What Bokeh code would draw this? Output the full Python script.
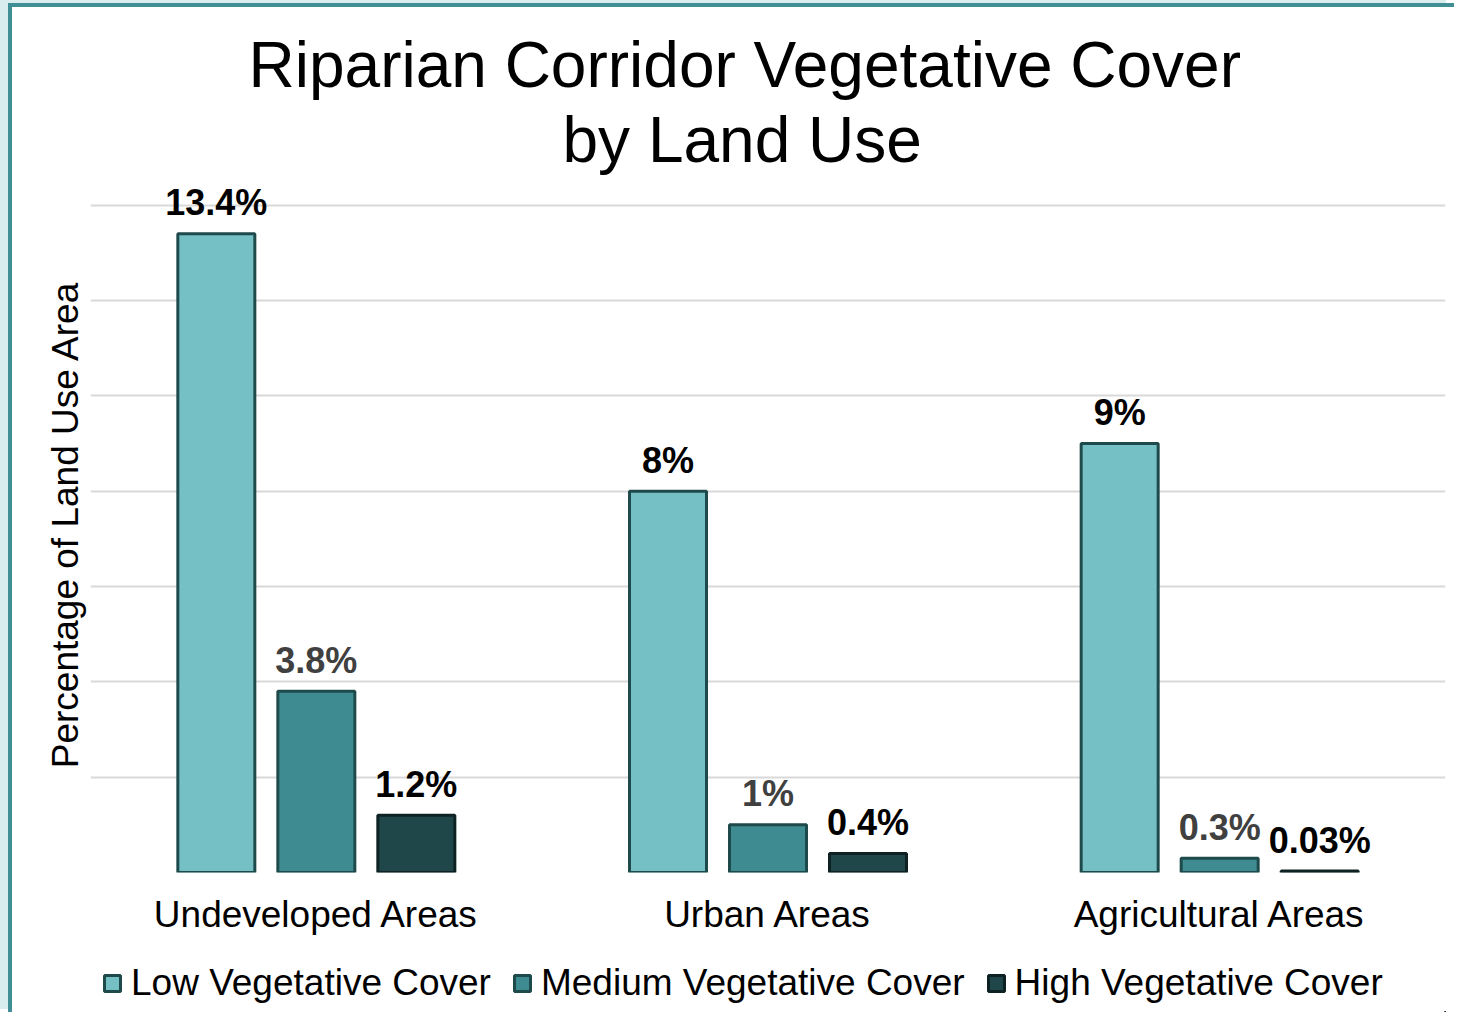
from bokeh.plotting import figure
from bokeh.layouts import column
from bokeh.models import (FactorRange, ColumnDataSource, Legend, LegendItem, Title,
                          FixedTicker, Range1d)
from bokeh.transform import dodge
from bokeh.core.properties import value
from bokeh.embed import file_html
from bokeh.resources import INLINE

# ---- data ----
land_uses = ["Undeveloped Areas", "Urban Areas", "Agricultural Areas"]
low = [13.4, 8, 9]
medium = [3.8, 1, 0.3]
high = [1.2, 0.4, 0.03]
low_labels = ["13.4%", "8%", "9%"]
medium_labels = ["3.8%", "1%", "0.3%"]
high_labels = ["1.2%", "0.4%", "0.03%"]
series_names = ["Low Vegetative Cover", "Medium Vegetative Cover", "High Vegetative Cover"]
y_ticks = [0, 2, 4, 6, 8, 10, 12, 14]

source = ColumnDataSource(dict(cat=land_uses, low=low, medium=medium, high=high,
                               low_labels=low_labels, medium_labels=medium_labels,
                               high_labels=high_labels))

FONT = "Liberation Sans"

p = figure(x_range=FactorRange(factors=land_uses, range_padding=0),
           y_range=(0, 14.6), frame_width=1355, frame_height=696,
           output_backend="svg", toolbar_location=None,
           min_border_left=78, min_border_right=9,
           min_border_top=169, min_border_bottom=80)
p.outline_line_color = None
p.background_fill_color = "white"
p.border_fill_color = "white"

step = 0.2214
bw = 0.1705
fills = ["#74c0c5", "#3e8c91", "#1f4749"]
lines = ["#1f4a4c", "#1f4a4c", "#0e2223"]
keys = ["low", "medium", "high"]
label_colors = ["#000000", "#404040", "#000000"]
for i, k in enumerate(keys):
    off = (i - 1) * step
    p.vbar(x=dodge("cat", off, range=p.x_range), top=k, width=bw, bottom=0,
           source=source, fill_color=fills[i], line_color=lines[i], line_width=3)
    p.text(x=dodge("cat", off, range=p.x_range), y=k, text=k + "_labels", source=source,
           text_font=value(FONT), text_font_style="bold", text_font_size="36px",
           text_align="center", text_baseline="alphabetic", y_offset=-31,
           text_color=label_colors[i])

# grid
p.xgrid.visible = False
p.ygrid.ticker = FixedTicker(ticks=y_ticks)
p.ygrid.grid_line_color = "#d9d9d9"
p.ygrid.grid_line_width = 2

# y axis (no ticks, only its title)
p.yaxis.ticker = FixedTicker(ticks=[])
p.yaxis.major_tick_line_color = None
p.yaxis.minor_tick_line_color = None
p.yaxis.axis_line_color = None
p.yaxis.axis_label = "Percentage of Land Use Area"
p.yaxis.axis_label_text_font = FONT
p.yaxis.axis_label_text_font_size = "37px"
p.yaxis.axis_label_text_font_style = "normal"
p.yaxis.axis_label_text_color = "#000000"
p.yaxis.axis_label_standoff = 5

# x axis
p.xaxis.major_label_text_font = FONT
p.xaxis.major_label_text_font_size = "37px"
p.xaxis.major_label_text_color = "#000000"
p.xaxis.major_tick_line_color = None
p.xaxis.minor_tick_line_color = None
p.xaxis.axis_line_color = None
p.xaxis.major_label_standoff = 15

# titles (the one added later sits closer to the plot)
p.title.text = "Riparian Corridor Vegetative Cover"
p.title.align = "left"
p.title.offset = 158
p.title.text_font = FONT
p.title.text_font_size = "64px"
p.title.text_font_style = "normal"
p.title.text_color = "#000000"
p.title.standoff = 0
t2 = Title(text="by Land Use", align="left", offset=472, text_font=FONT,
           text_font_size="64px", text_font_style="normal", text_color="#000000",
           standoff=2)
p.add_layout(t2, "above")

# legend strip under the chart (its own small canvas; its bars lie far outside its view)
lg = figure(width=1442, height=60, output_backend="svg", toolbar_location=None,
            x_range=FactorRange(factors=land_uses), y_range=Range1d(100, 101),
            x_axis_type=None, y_axis_type=None, min_border=0)
lg.outline_line_color = None
lg.grid.visible = False
lg.background_fill_color = "white"
lg.border_fill_color = "white"
legend_renderers = []
for i, k in enumerate(keys):
    legend_renderers.append(lg.vbar(x=dodge("cat", 20, range=lg.x_range), top=k, bottom=0,
                                    width=0.2, source=source,
                                    fill_color=fills[i], line_color=lines[i], line_width=3))
legend = Legend(items=[LegendItem(label=series_names[i], renderers=[legend_renderers[i]])
                       for i in range(3)],
                orientation="horizontal", location=(12, 8),
                glyph_width=20, glyph_height=20, label_standoff=9, spacing=21,
                label_text_font=FONT, label_text_font_size="37px", label_text_color="#000000",
                border_line_color=None, background_fill_alpha=0, padding=0, margin=0)
lg.add_layout(legend, "center")

layout = column(p, lg, spacing=0)
layout.styles = {"margin-left": "8px", "margin-top": "3px",
                 "border-left": "4px solid #3f8f94", "border-top": "4px solid #3f8f94",
                 "box-shadow": "-8px -3px 0 0 #d9edef"}

open("out.html", "w").write(file_html(layout, INLINE))
